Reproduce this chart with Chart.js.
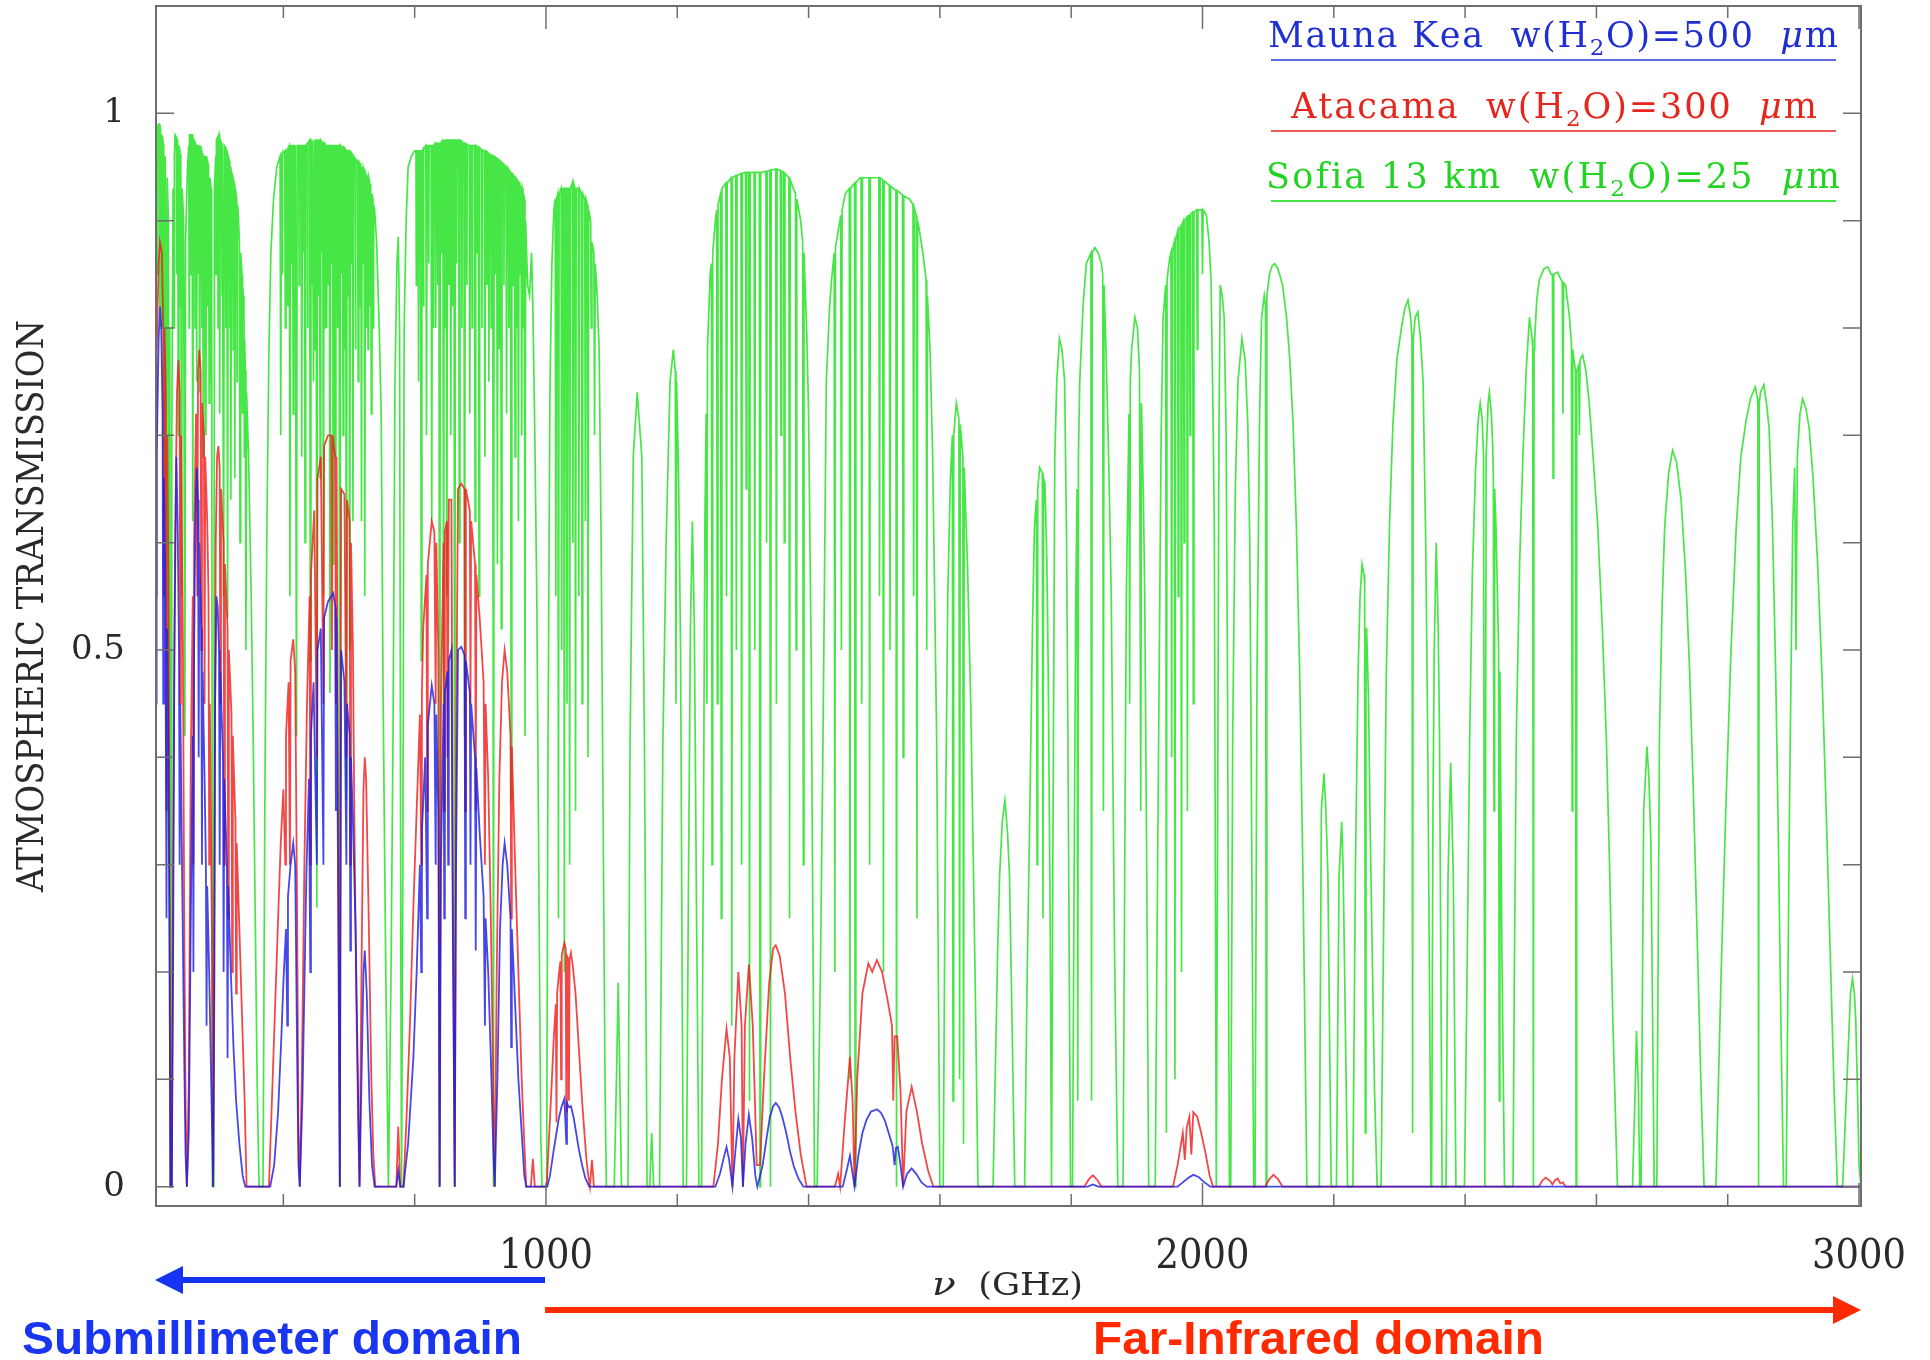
<!DOCTYPE html>
<html>
<head>
<meta charset="utf-8">
<title>Atmospheric transmission</title>
<script src="https://cdn.jsdelivr.net/npm/chart.js@4.4.0/dist/chart.umd.min.js"></script>
<style>
    html, body { margin: 0; padding: 0; background: #ffffff; }
    canvas { display: block; }
</style>
</head>
<body>
<canvas id="transChart" width="1930" height="1360"></canvas>
<script>
// Colores de las curvas
const siteColors = {
    maunaKea: 'rgba(25, 25, 225, 0.8)',
    atacama: 'rgba(240, 25, 25, 0.8)',
    sofia: 'rgba(0, 220, 0, 0.72)',
    frame: '#6e6e6e',
    text: '#2a2a2a'
};

// Ejes: marcas y etiquetas (GHz / transmision)
const xLabelTicks = [1000, 2000, 3000];
const xMinorTicks = [600, 800, 1200, 1400, 1600, 1800, 2200, 2400, 2600, 2800];
const yLabelTicks = [0, 0.5, 1];
const yMinorTicks = [0.1, 0.2, 0.3, 0.4, 0.6, 0.7, 0.8, 0.9];

// Leyenda
const seriesNames = ['Mauna Kea', 'Atacama', 'Sofia 13 km'];
const waterColumns = ['500', '300', '25'];

// Mauna Kea w(H2O)=500 um  -> [GHz, transmision]
const maunaKea = [
    [406, 0.45], [407, 0.68], [410, 0.79], [412, 0.82], [414, 0.8], [416, 0.72], [417, 0.45], [418, 0.66],
    [420, 0.58], [422, 0.25], [423, 0.52], [425, 0.4], [427, 0.15], [428, 0], [430, 0], [432, 0.2],
    [434, 0.5], [437, 0.68], [439, 0.62], [441, 0.5], [442, 0.3], [443, 0.45], [446, 0.28], [449, 0.12],
    [451, 0.03], [453, 0], [456, 0.05], [459, 0.25], [462, 0.42], [463, 0.2], [464, 0.5], [466, 0.62],
    [468, 0.67], [470, 0.64], [471, 0.4], [472, 0.6], [475, 0.52], [476, 0.3], [477, 0.48], [480, 0.38],
    [482, 0.3], [483, 0.15], [484, 0.28], [487, 0.2], [490, 0.1], [493, 0], [495, 0.2], [496, 0.45],
    [498, 0.55], [500, 0.54], [502, 0.5], [503, 0.3], [504, 0.48], [508, 0.4], [509, 0.2], [510, 0.38],
    [514, 0.3], [515, 0.12], [516, 0.28], [520, 0.2], [524, 0.13], [528, 0.08], [533, 0.04], [538, 0.01],
    [542, 0], [580, 0], [586, 0.02], [592, 0.07], [597, 0.14], [600, 0.19], [604, 0.24], [606, 0.15],
    [607, 0.27], [611, 0.3], [615, 0.32], [618, 0.3], [621, 0.12], [623, 0.02], [625, 0], [629, 0.08],
    [635, 0.29], [639, 0.38], [641, 0.2], [642, 0.42], [646, 0.47], [651, 0.3], [652, 0.5], [657, 0.52],
    [661, 0.3], [662, 0.53], [668, 0.545], [673, 0.55], [676, 0.553], [679, 0.54], [680, 0.35], [681, 0.53],
    [686, 0], [688, 0.5], [693, 0.47], [696, 0.3], [697, 0.45], [701, 0.42], [702, 0.22], [703, 0.4],
    [706, 0.34], [710, 0.24], [713, 0.12], [716, 0], [719, 0.1], [722, 0.2], [724, 0.22], [727, 0.18],
    [731, 0.08], [735, 0.02], [739, 0], [772, 0], [775, 0.015], [778, 0], [783, 0], [790, 0.04],
    [798, 0.12], [803, 0.2], [808, 0.3], [810, 0.2], [811, 0.33], [816, 0.4], [819, 0.25], [820, 0.43],
    [826, 0.467], [830, 0.45], [832, 0.3], [833, 0.44], [836, 0.35], [838, 0], [840, 0.3], [844, 0.45],
    [845, 0.25], [846, 0.46], [850, 0.48], [851, 0.3], [852, 0.49], [856, 0.5], [858, 0.25], [861, 0],
    [863, 0.3], [866, 0.5], [871, 0.503], [876, 0.495], [877, 0.25], [878, 0.49], [884, 0.46], [885, 0.3],
    [886, 0.45], [892, 0.4], [893, 0.22], [894, 0.39], [899, 0.33], [905, 0.27], [907, 0.15], [908, 0.25],
    [912, 0.2], [916, 0.12], [920, 0.03], [922, 0], [926, 0.1], [930, 0.24], [934, 0.3], [937, 0.32],
    [941, 0.3], [946, 0.25], [947, 0.13], [948, 0.24], [953, 0.17], [958, 0.1], [963, 0.05], [967, 0.01],
    [970, 0], [1002, 0], [1006, 0.01], [1012, 0.035], [1016, 0.05], [1020, 0.065], [1024, 0.075], [1028, 0.082],
    [1031, 0.04], [1032, 0.078], [1035, 0.074], [1038, 0.075], [1042, 0.065], [1046, 0.05], [1050, 0.035], [1055, 0.02],
    [1060, 0.008], [1066, 0], [1258, 0], [1265, 0.012], [1270, 0.025], [1275, 0.037], [1279, 0.025], [1284, 0],
    [1288, 0.03], [1293, 0.063], [1297, 0.045], [1300, 0], [1304, 0.04], [1309, 0.067], [1314, 0.045], [1319, 0.01],
    [1322, 0], [1330, 0.02], [1336, 0.045], [1341, 0.065], [1346, 0.075], [1350, 0.078], [1355, 0.074], [1360, 0.065],
    [1366, 0.05], [1372, 0.032], [1378, 0.018], [1385, 0.007], [1392, 0], [1452, 0], [1458, 0.015], [1463, 0.029],
    [1467, 0.012], [1470, 0], [1476, 0.03], [1482, 0.05], [1488, 0.062], [1495, 0.07], [1500, 0.071], [1504, 0.072],
    [1510, 0.069], [1516, 0.062], [1522, 0.05], [1528, 0.038], [1531, 0.02], [1533, 0.036], [1536, 0.037], [1540, 0.02],
    [1544, 0], [1550, 0.012], [1557, 0.017], [1564, 0.012], [1572, 0.004], [1580, 0], [1825, 0], [1833, 0.002],
    [1841, 0], [1962, 0], [1970, 0.004], [1978, 0.008], [1986, 0.011], [1994, 0.009], [2003, 0.004], [2012, 0],
    [3003, 0]
];

// Atacama w(H2O)=300 um
const atacama = [
    [406, 0.55], [407, 0.78], [410, 0.86], [412, 0.88], [415, 0.87], [417, 0.8], [418, 0.55], [419, 0.8],
    [421, 0.74], [422, 0.35], [423, 0.7], [425, 0.55], [427, 0.25], [428, 0], [430, 0], [432, 0.3],
    [435, 0.6], [438, 0.74], [440, 0.77], [442, 0.74], [443, 0.45], [444, 0.7], [447, 0.5], [449, 0.25],
    [451, 0.08], [453, 0], [456, 0.1], [459, 0.4], [462, 0.55], [463, 0.3], [464, 0.6], [467, 0.72],
    [469, 0.55], [470, 0.76], [472, 0.78], [474, 0.76], [475, 0.5], [476, 0.73], [479, 0.7], [480, 0.45],
    [481, 0.68], [484, 0.62], [486, 0.55], [487, 0.3], [488, 0.45], [491, 0.25], [493, 0], [495, 0.3],
    [497, 0.6], [499, 0.68], [501, 0.69], [503, 0.67], [504, 0.45], [505, 0.65], [509, 0.6], [510, 0.3],
    [511, 0.58], [515, 0.52], [516, 0.25], [517, 0.5], [521, 0.44], [522, 0.2], [523, 0.42], [527, 0.34],
    [528, 0.18], [529, 0.32], [533, 0.24], [537, 0.16], [541, 0.08], [544, 0], [578, 0], [582, 0.07],
    [587, 0.16], [592, 0.25], [596, 0.32], [600, 0.37], [603, 0.3], [604, 0.42], [608, 0.47], [610, 0.3],
    [611, 0.49], [615, 0.51], [618, 0.48], [621, 0.25], [623, 0.05], [625, 0], [628, 0.1], [632, 0.3],
    [636, 0.45], [640, 0.55], [641, 0.3], [642, 0.57], [647, 0.63], [651, 0.4], [652, 0.66], [657, 0.68],
    [661, 0.45], [662, 0.69], [668, 0.7], [673, 0.7], [674, 0.5], [675, 0.7], [679, 0.68], [680, 0.45],
    [681, 0.68], [686, 0], [688, 0.65], [693, 0.645], [696, 0.4], [697, 0.64], [701, 0.62], [702, 0.3],
    [703, 0.6], [706, 0.5], [708, 0.35], [711, 0.18], [714, 0.06], [716, 0], [719, 0.2], [722, 0.37],
    [724, 0.4], [726, 0.38], [730, 0.25], [734, 0.1], [737, 0.03], [740, 0], [772, 0], [775, 0.056],
    [778, 0], [783, 0], [788, 0.07], [793, 0.155], [798, 0.26], [803, 0.35], [808, 0.44], [810, 0.3],
    [811, 0.46], [813, 0.52], [818, 0.57], [819, 0.35], [820, 0.58], [826, 0.62], [830, 0.61], [832, 0.45],
    [833, 0.6], [836, 0.5], [838, 0], [840, 0.45], [844, 0.6], [845, 0.35], [846, 0.61], [849, 0.62],
    [850, 0.4], [852, 0.64], [856, 0.64], [858, 0.3], [861, 0], [863, 0.4], [866, 0.65], [871, 0.655],
    [876, 0.65], [877, 0.35], [878, 0.65], [884, 0.63], [885, 0.45], [886, 0.62], [892, 0.58], [893, 0.35],
    [894, 0.57], [899, 0.53], [905, 0.47], [907, 0.3], [908, 0.45], [912, 0.38], [916, 0.25], [920, 0.08],
    [922, 0], [925, 0.2], [929, 0.38], [933, 0.47], [937, 0.5], [941, 0.48], [946, 0.42], [947, 0.25],
    [948, 0.41], [953, 0.3], [958, 0.2], [963, 0.1], [967, 0.04], [970, 0], [977, 0], [980, 0.026],
    [983, 0], [1001, 0], [1005, 0.05], [1009, 0.1], [1012, 0.14], [1015, 0.17], [1016, 0.06], [1017, 0.18],
    [1020, 0.2], [1022, 0.21], [1023, 0.1], [1024, 0.215], [1026, 0.222], [1028, 0.227], [1030, 0.222], [1031, 0.07],
    [1032, 0.215], [1034, 0.212], [1035, 0.08], [1036, 0.212], [1038, 0.218], [1041, 0.205], [1045, 0.18], [1049, 0.14],
    [1052, 0.11], [1055, 0.08], [1058, 0.055], [1061, 0.03], [1064, 0.012], [1067, 0], [1070, 0.025], [1073, 0],
    [1255, 0], [1262, 0.04], [1268, 0.1], [1275, 0.147], [1280, 0.12], [1284, 0], [1287, 0.12], [1293, 0.2],
    [1298, 0.15], [1300, 0], [1303, 0.15], [1309, 0.207], [1315, 0.15], [1321, 0.02], [1326, 0.02], [1332, 0.1],
    [1340, 0.19], [1346, 0.222], [1350, 0.225], [1356, 0.215], [1364, 0.18], [1372, 0.12], [1380, 0.07], [1388, 0.03],
    [1397, 0], [1440, 0], [1445, 0.012], [1448, 0], [1455, 0.06], [1463, 0.121], [1467, 0.08], [1470, 0],
    [1474, 0.1], [1482, 0.18], [1491, 0.208], [1497, 0.2], [1504, 0.211], [1512, 0.2], [1520, 0.175], [1527, 0.15],
    [1529, 0.08], [1531, 0.14], [1535, 0.14], [1540, 0.09], [1544, 0], [1549, 0.07], [1557, 0.093], [1565, 0.07],
    [1573, 0.04], [1582, 0.015], [1590, 0], [1820, 0], [1827, 0.007], [1833, 0.0106], [1840, 0.006], [1846, 0],
    [1955, 0], [1962, 0.02], [1966, 0.035], [1970, 0.05], [1973, 0.025], [1976, 0.055], [1980, 0.065], [1983, 0.03],
    [1986, 0.0695], [1992, 0.065], [1998, 0.05], [2005, 0.03], [2011, 0.01], [2016, 0], [2095, 0], [2102, 0.007],
    [2108, 0.011], [2115, 0.007], [2122, 0], [2512, 0], [2518, 0.006], [2523, 0.0084], [2530, 0.005], [2533, 0.002],
    [2537, 0.006], [2541, 0.0075], [2545, 0.003], [2549, 0.004], [2553, 0], [3003, 0]
];

// Sofia 13 km w(H2O)=25 um
const sofia = [
    [406, 0.985], [407.5, 0.988], [408, 0.85], [408.5, 0.988], [410, 0.99], [411, 0.99], [411.5, 0.82], [412, 0.99],
    [413, 0.985], [414, 0.8], [415, 0.98], [416.5, 0.975], [417, 0.8], [417.5, 0.972], [418, 0.97], [419, 0.62],
    [420, 0.96], [422, 0.52], [423, 0.94], [425, 0.9], [426, 0.3], [427, 0.8], [428, 0], [429, 0],
    [430, 0.7], [432, 0.93], [433, 0.93], [433.5, 0.8], [434, 0.96], [435, 0.98], [437, 0.978], [437.5, 0.85],
    [438, 0.976], [439, 0.975], [440, 0.7], [441, 0.97], [442.5, 0.965], [443, 0.82], [443.5, 0.962], [444, 0.96],
    [445, 0.55], [446, 0.93], [448, 0.9], [450, 0.42], [451, 0.88], [454, 0.95], [456, 0.97], [456.5, 0.8],
    [457, 0.98], [459, 0.98], [459.5, 0.85], [460, 0.98], [461, 0.98], [462, 0.62], [463, 0.975], [465, 0.972],
    [465.5, 0.8], [466, 0.972], [467, 0.97], [468, 0.75], [469, 0.97], [470.5, 0.97], [471, 0.85], [471.5, 0.97],
    [472, 0.97], [473, 0.74], [474, 0.97], [475.5, 0.965], [476, 0.8], [476.5, 0.963], [477, 0.96], [478, 0.68],
    [479, 0.96], [481, 0.96], [482, 0.7], [483, 0.96], [484.5, 0.955], [485, 0.82], [485.5, 0.953], [486, 0.95],
    [487, 0.73], [488, 0.94], [489.5, 0.935], [490, 0.75], [490.5, 0.93], [491, 0.92], [492, 0], [494, 0],
    [495, 0.93], [497, 0.96], [497.5, 0.85], [498, 0.975], [500, 0.978], [500.5, 0.8], [501, 0.978], [502, 0.98],
    [503, 0.72], [504, 0.975], [506, 0.972], [506.5, 0.83], [507, 0.97], [508, 0.97], [509, 0.55], [510, 0.97],
    [512, 0.968], [512.5, 0.8], [513, 0.966], [514, 0.965], [515, 0.53], [516, 0.96], [518, 0.955], [518.5, 0.8],
    [519, 0.95], [520, 0.64], [521, 0.945], [523, 0.94], [523.5, 0.78], [524, 0.938], [525, 0.935], [526, 0.66],
    [527, 0.93], [529, 0.92], [529.5, 0.75], [530, 0.915], [531, 0.91], [533, 0.88], [534, 0.6], [535, 0.87],
    [537, 0.85], [537.5, 0.72], [538, 0.84], [539, 0.83], [540, 0.81], [540.5, 0.68], [541, 0.79], [542, 0.76],
    [543, 0.5], [544, 0.74], [547, 0.68], [551, 0.55], [554, 0.42], [557, 0.26], [560, 0.1], [563, 0],
    [569, 0], [572, 0.38], [575, 0.62], [578, 0.78], [581, 0.87], [585, 0.92], [590, 0.95], [595, 0.96],
    [596, 0.7], [597, 0.96], [598, 0.962], [598.5, 0.85], [599, 0.962], [602, 0.965], [603, 0.8], [604, 0.965],
    [606, 0.966], [606.5, 0.82], [607, 0.967], [609, 0.97], [610, 0.55], [611, 0.97], [612, 0.97], [612.5, 0.86],
    [613, 0.97], [614, 0.97], [615, 0.72], [616, 0.97], [617, 0.97], [617.5, 0.8], [618, 0.97], [619, 0.97],
    [620, 0.42], [621, 0.97], [623.5, 0.97], [624, 0.84], [624.5, 0.97], [627, 0.97], [628, 0.68], [629, 0.97],
    [630, 0.97], [630.5, 0.87], [631, 0.97], [632, 0.97], [633, 0.6], [634, 0.97], [636.5, 0.972], [637, 0.8],
    [637.5, 0.972], [640, 0.975], [641, 0.49], [642, 0.975], [643, 0.975], [643.5, 0.84], [644, 0.975], [645, 0.975],
    [646, 0.75], [647, 0.975], [648, 0.975], [648.5, 0.78], [649, 0.975], [650, 0.975], [651, 0.26], [652, 0.975],
    [653, 0.975], [653.5, 0.83], [654, 0.975], [655, 0.975], [656, 0.66], [657, 0.975], [658, 0.974], [658.5, 0.87],
    [659, 0.973], [660, 0.972], [661, 0.55], [662, 0.972], [663, 0.971], [663.5, 0.8], [664, 0.971], [665, 0.97],
    [666, 0.8], [667, 0.97], [668, 0.97], [668.5, 0.84], [669, 0.97], [670, 0.97], [671, 0.46], [672, 0.97],
    [673, 0.97], [673.5, 0.86], [674, 0.97], [675, 0.97], [676, 0.58], [677, 0.97], [678, 0.97], [679, 0.68],
    [680, 0.97], [682, 0.97], [682.5, 0.8], [683, 0.97], [685, 0.97], [686, 0], [687, 0.97], [688, 0.969],
    [688.5, 0.85], [689, 0.969], [690, 0.968], [691, 0.7], [692, 0.968], [693, 0.967], [693.5, 0.78], [694, 0.967],
    [695, 0.966], [696, 0.36], [697, 0.966], [698, 0.966], [698.5, 0.83], [699, 0.965], [700, 0.965], [701, 0.5],
    [702, 0.964], [703, 0.963], [703.5, 0.86], [704, 0.963], [705, 0.962], [706, 0.62], [707, 0.96], [709.5, 0.958],
    [710, 0.78], [710.5, 0.957], [713, 0.955], [714, 0.75], [715, 0.955], [716, 0.954], [716.5, 0.82], [717, 0.953],
    [718, 0.952], [719, 0.62], [720, 0.95], [721, 0.95], [721.5, 0.86], [722, 0.948], [723, 0.945], [724, 0.55],
    [725, 0.945], [726, 0.943], [726.5, 0.8], [727, 0.942], [728, 0.94], [729, 0.78], [730, 0.94], [731, 0.937],
    [731.5, 0.82], [732, 0.934], [733, 0.93], [734, 0.72], [735, 0.925], [736.5, 0.92], [737, 0.8], [737.5, 0.915],
    [739, 0.91], [742, 0.88], [746, 0.8], [749, 0.72], [752, 0.45], [756, 0.2], [760, 0], [764, 0.2],
    [767, 0.42], [770, 0.75], [773, 0.86], [775, 0.885], [777, 0.8], [779, 0.2], [780, 0], [782, 0.3],
    [784, 0.8], [787, 0.9], [790, 0.95], [795, 0.96], [800, 0.965], [802, 0.965], [802.5, 0.84], [803, 0.965],
    [805, 0.965], [806, 0.75], [807, 0.965], [809, 0.965], [810, 0.49], [811, 0.965], [813, 0.967], [813.5, 0.82],
    [814, 0.967], [817, 0.97], [818, 0.7], [819, 0.97], [821, 0.97], [821.5, 0.86], [822, 0.97], [825, 0.97],
    [826, 0.62], [827, 0.97], [828, 0.97], [828.5, 0.8], [829, 0.97], [831, 0.972], [832, 0.8], [833, 0.972],
    [834.5, 0.972], [835, 0.84], [835.5, 0.972], [837, 0.972], [838, 0], [839, 0.972], [840, 0.973], [840.5, 0.87],
    [841, 0.974], [843, 0.975], [844, 0.45], [845, 0.975], [846, 0.975], [846.5, 0.8], [847, 0.975], [848, 0.975],
    [849, 0.55], [850, 0.975], [851.5, 0.975], [852, 0.84], [852.5, 0.975], [854, 0.975], [855, 0.7], [856, 0.975],
    [857, 0.975], [857.5, 0.82], [858, 0.975], [860, 0.975], [861, 0], [862, 0.975], [863.5, 0.975], [864, 0.86],
    [864.5, 0.975], [867, 0.975], [868, 0.6], [869, 0.975], [871.5, 0.974], [872, 0.8], [872.5, 0.973], [875, 0.972],
    [876, 0.42], [877, 0.972], [879, 0.971], [879.5, 0.84], [880, 0.971], [883, 0.97], [884, 0.72], [885, 0.97],
    [887, 0.97], [887.5, 0.8], [888, 0.97], [891, 0.97], [892, 0.62], [893, 0.97], [894.5, 0.969], [895, 0.87],
    [895.5, 0.969], [897, 0.968], [898, 0.55], [899, 0.968], [902, 0.966], [902.5, 0.8], [903, 0.966], [906, 0.965],
    [907, 0.68], [908, 0.965], [909.5, 0.964], [910, 0.84], [910.5, 0.964], [912, 0.963], [913, 0.75], [914, 0.962],
    [916, 0.961], [916.5, 0.8], [917, 0.961], [919, 0.96], [920, 0], [921, 0.96], [922.5, 0.959], [923, 0.85],
    [923.5, 0.959], [925, 0.958], [926, 0.58], [927, 0.957], [928.5, 0.956], [929, 0.78], [929.5, 0.956], [931, 0.955],
    [932, 0.52], [933, 0.954], [935.5, 0.952], [936, 0.84], [936.5, 0.952], [939, 0.95], [940, 0.72], [941, 0.95],
    [943, 0.948], [943.5, 0.8], [944, 0.947], [946, 0.945], [947, 0.36], [948, 0.944], [949.5, 0.943], [950, 0.84],
    [950.5, 0.942], [952, 0.94], [953, 0.68], [954, 0.94], [955, 0.939], [955.5, 0.8], [956, 0.938], [957, 0.937],
    [958, 0.62], [959, 0.935], [960, 0.934], [960.5, 0.85], [961, 0.932], [962, 0.93], [963, 0.7], [964, 0.93],
    [965, 0.927], [965.5, 0.8], [966, 0.925], [967, 0.92], [968, 0.42], [969, 0.9], [972, 0.84], [975, 0.83],
    [978, 0.87], [980, 0.82], [983, 0.7], [986, 0.55], [989, 0.3], [992, 0.05], [994, 0], [1001, 0],
    [1003, 0.4], [1006, 0.74], [1009, 0.86], [1012, 0.91], [1014, 0.92], [1015, 0.55], [1016, 0.92], [1018, 0.925],
    [1019, 0.25], [1020, 0.925], [1023, 0.93], [1024, 0.5], [1025, 0.93], [1027, 0.93], [1028, 0.2], [1029, 0.93],
    [1031, 0.93], [1032, 0.45], [1033, 0.93], [1035, 0.93], [1036, 0.3], [1037, 0.93], [1040, 0.935], [1041, 0.6],
    [1042, 0.935], [1044, 0.93], [1045, 0.35], [1046, 0.93], [1049, 0.93], [1050, 0.55], [1051, 0.93], [1054, 0.925],
    [1055, 0.45], [1056, 0.925], [1059, 0.92], [1060, 0.62], [1061, 0.92], [1063, 0.915], [1064, 0.4], [1065, 0.91],
    [1068, 0.9], [1069, 0.8], [1070, 0.88], [1073, 0.87], [1074, 0.7], [1075, 0.86], [1078, 0.83], [1081, 0.78],
    [1084, 0.6], [1087, 0.35], [1090, 0.09], [1092, 0], [1104, 0], [1108, 0.12], [1110, 0.19], [1112, 0.12],
    [1115, 0], [1125, 0], [1128, 0.41], [1133, 0.68], [1139, 0.74], [1146, 0.68], [1150, 0.41], [1154, 0],
    [1158, 0], [1161, 0.05], [1164, 0], [1173, 0], [1178, 0.41], [1183, 0.6], [1189, 0.75], [1194, 0.78],
    [1197, 0.76], [1198, 0.45], [1199, 0.75], [1202, 0.66], [1205, 0.5], [1209, 0], [1214, 0], [1217, 0.28],
    [1220, 0.52], [1223, 0.62], [1226, 0.52], [1229, 0.28], [1233, 0], [1237, 0], [1240, 0.35], [1242, 0.615],
    [1244, 0.72], [1245, 0.45], [1246, 0.78], [1250, 0.85], [1252, 0.86], [1253, 0.3], [1254, 0.87], [1258, 0.9],
    [1260, 0.91], [1261, 0.45], [1262, 0.915], [1266, 0.925], [1267, 0.25], [1268, 0.93], [1274, 0.935], [1275, 0.55],
    [1276, 0.935], [1282, 0.94], [1283, 0.15], [1284, 0.94], [1289, 0.942], [1290, 0.5], [1291, 0.942], [1297, 0.944],
    [1298, 0.3], [1299, 0.944], [1304, 0.945], [1305, 0.65], [1306, 0.945], [1309, 0.945], [1310, 0.08], [1311, 0.945],
    [1317, 0.945], [1318, 0.5], [1319, 0.945], [1325, 0.945], [1326, 0], [1327, 0.945], [1335, 0.946], [1336, 0.6],
    [1337, 0.946], [1341, 0.947], [1342, 0], [1343, 0.947], [1350, 0.948], [1351, 0.45], [1352, 0.948], [1357, 0.947],
    [1358, 0.7], [1359, 0.946], [1362, 0.945], [1363, 0.6], [1364, 0.944], [1370, 0.94], [1371, 0.25], [1372, 0.938],
    [1380, 0.925], [1381, 0.5], [1382, 0.92], [1388, 0.9], [1391, 0.88], [1392, 0.3], [1393, 0.87], [1397, 0.8],
    [1400, 0.72], [1404, 0.49], [1409, 0], [1413, 0], [1418, 0.2], [1422, 0.42], [1427, 0.75], [1432, 0.82],
    [1435, 0.845], [1439, 0.87], [1440, 0.2], [1441, 0.875], [1445, 0.89], [1449, 0.905], [1450, 0.5], [1451, 0.91],
    [1456, 0.925], [1462, 0.93], [1463, 0.1], [1464, 0.93], [1470, 0.935], [1471, 0], [1472, 0.935], [1478, 0.94],
    [1480, 0.94], [1481, 0.45], [1482, 0.94], [1492, 0.94], [1493, 0.3], [1494, 0.94], [1503, 0.94], [1507, 0.94],
    [1508, 0.55], [1509, 0.94], [1513, 0.938], [1514, 0.2], [1515, 0.937], [1523, 0.933], [1524, 0.5], [1525, 0.932],
    [1529, 0.93], [1533, 0.928], [1534, 0], [1535, 0.928], [1543, 0.924], [1544, 0.4], [1545, 0.923], [1554, 0.92],
    [1559, 0.915], [1560, 0.55], [1561, 0.912], [1564, 0.905], [1565, 0.25], [1566, 0.9], [1569, 0.89], [1574, 0.87],
    [1579, 0.845], [1580, 0.5], [1581, 0.83], [1585, 0.78], [1589, 0.68], [1592, 0.55], [1595, 0.42], [1600, 0],
    [1605, 0], [1608, 0.3], [1612, 0.55], [1616, 0.66], [1619, 0.7], [1620, 0.08], [1621, 0.7], [1625, 0.73],
    [1629, 0.715], [1630, 0.1], [1631, 0.71], [1635, 0.68], [1636, 0.04], [1637, 0.67], [1642, 0.58], [1647, 0.45],
    [1651, 0.3], [1654, 0.18], [1658, 0], [1681, 0], [1688, 0.22], [1691, 0.29], [1695, 0.34], [1699, 0.36],
    [1703, 0.33], [1706, 0.29], [1710, 0.15], [1714, 0], [1729, 0], [1733, 0.2], [1737, 0.35], [1741, 0.52],
    [1744, 0.615], [1747, 0.64], [1748, 0.3], [1749, 0.65], [1752, 0.67], [1756, 0.665], [1757, 0.25], [1758, 0.66],
    [1760, 0.655], [1763, 0.58], [1765, 0.48], [1768, 0.25], [1770, 0], [1772, 0.3], [1775, 0.68], [1778, 0.75],
    [1782, 0.79], [1786, 0.78], [1790, 0.75], [1793, 0.6], [1795, 0.42], [1799, 0], [1802, 0], [1805, 0.35],
    [1807, 0.55], [1809, 0.65], [1810, 0.08], [1811, 0.68], [1813, 0.75], [1818, 0.82], [1823, 0.86], [1830, 0.87],
    [1831, 0.08], [1832, 0.87], [1836, 0.875], [1841, 0.87], [1846, 0.86], [1848, 0.85], [1849, 0.35], [1850, 0.84],
    [1853, 0.78], [1857, 0.68], [1861, 0.55], [1866, 0.22], [1871, 0], [1879, 0], [1882, 0.35], [1884, 0.55],
    [1888, 0.72], [1889, 0.45], [1890, 0.75], [1892, 0.78], [1897, 0.81], [1901, 0.8], [1904, 0.76], [1906, 0.35],
    [1907, 0.73], [1910, 0.64], [1912, 0.55], [1915, 0.3], [1918, 0], [1928, 0], [1931, 0.25], [1934, 0.48],
    [1937, 0.7], [1940, 0.81], [1944, 0.84], [1945, 0.05], [1946, 0.845], [1950, 0.865], [1952, 0.87], [1953, 0.4],
    [1954, 0.872], [1957, 0.88], [1958, 0.1], [1959, 0.882], [1962, 0.89], [1963, 0.55], [1964, 0.892], [1967, 0.895],
    [1968, 0.2], [1969, 0.897], [1971, 0.9], [1972, 0.6], [1973, 0.9], [1976, 0.903], [1977, 0.35], [1978, 0.904],
    [1980, 0.905], [1981, 0.7], [1982, 0.906], [1985, 0.908], [1986, 0.45], [1987, 0.908], [1991, 0.91], [1992, 0.78],
    [1993, 0.91], [1999, 0.91], [2000, 0.85], [2001, 0.91], [2006, 0.905], [2010, 0.88], [2013, 0.845], [2016, 0.72],
    [2018, 0.615], [2021, 0], [2023, 0.33], [2025, 0.7], [2027, 0.84], [2030, 0.83], [2033, 0.81], [2036, 0.7],
    [2038, 0.48], [2041, 0], [2043, 0], [2046, 0.42], [2050, 0.65], [2054, 0.75], [2060, 0.79], [2065, 0.77],
    [2069, 0.71], [2072, 0.6], [2074, 0.42], [2078, 0], [2080, 0], [2083, 0.48], [2087, 0.72], [2090, 0.81],
    [2094, 0.83], [2096, 0.82], [2097, 0], [2098, 0.83], [2102, 0.85], [2106, 0.858], [2110, 0.86], [2115, 0.855],
    [2122, 0.84], [2128, 0.81], [2133, 0.77], [2138, 0.71], [2143, 0.615], [2148, 0.48], [2153, 0.29], [2159, 0],
    [2178, 0], [2181, 0.35], [2185, 0.385], [2188, 0.35], [2191, 0.29], [2196, 0], [2204, 0], [2208, 0.29],
    [2212, 0.34], [2214, 0.3], [2216, 0.22], [2221, 0], [2229, 0], [2233, 0.3], [2237, 0.48], [2240, 0.55],
    [2243, 0.58], [2246, 0.57], [2247, 0.56], [2248, 0.05], [2249, 0.52], [2250, 0.52], [2253, 0.45], [2255, 0.35],
    [2259, 0.2], [2262, 0.09], [2266, 0], [2272, 0], [2276, 0.25], [2280, 0.48], [2285, 0.62], [2290, 0.71],
    [2296, 0.77], [2303, 0.8], [2308, 0.818], [2313, 0.826], [2317, 0.81], [2319, 0.79], [2320, 0.05], [2321, 0.79],
    [2324, 0.81], [2328, 0.815], [2332, 0.79], [2336, 0.75], [2340, 0.6], [2343, 0.42], [2348, 0], [2349, 0],
    [2351, 0.35], [2353, 0.5], [2356, 0.6], [2359, 0.52], [2361, 0.42], [2365, 0], [2371, 0], [2374, 0.29],
    [2378, 0.395], [2382, 0.29], [2386, 0], [2399, 0], [2403, 0.2], [2407, 0.42], [2411, 0.57], [2416, 0.67],
    [2420, 0.715], [2423, 0.73], [2426, 0.715], [2428, 0.68], [2430, 0], [2432, 0.68], [2435, 0.73], [2437, 0.74],
    [2440, 0.72], [2442, 0.69], [2443, 0.66], [2444, 0.35], [2445, 0.65], [2447, 0.615], [2450, 0.53], [2451, 0.5],
    [2452, 0.08], [2453, 0.48], [2456, 0.22], [2460, 0], [2473, 0], [2475, 0.2], [2478, 0.42], [2483, 0.58],
    [2488, 0.68], [2493, 0.76], [2498, 0.81], [2502, 0.79], [2503, 0.78], [2504, 0], [2505, 0.78], [2506, 0.79],
    [2509, 0.825], [2513, 0.845], [2520, 0.855], [2526, 0.857], [2531, 0.85], [2533, 0.85], [2534, 0.66], [2535, 0.85],
    [2541, 0.852], [2546, 0.845], [2548, 0.843], [2549, 0.72], [2550, 0.842], [2553, 0.84], [2559, 0.81], [2562, 0.785],
    [2563, 0.35], [2564, 0.78], [2567, 0.765], [2568, 0.76], [2569, 0], [2570, 0.76], [2573, 0.765], [2574, 0.7],
    [2575, 0.77], [2579, 0.775], [2584, 0.76], [2589, 0.73], [2595, 0.68], [2602, 0.615], [2609, 0.52], [2615, 0.42],
    [2620, 0.3], [2625, 0.155], [2632, 0], [2655, 0], [2659, 0.09], [2661, 0.145], [2664, 0.09], [2666, 0],
    [2668, 0], [2672, 0.35], [2677, 0.41], [2680, 0.38], [2683, 0.32], [2688, 0], [2692, 0], [2696, 0.42],
    [2700, 0.54], [2704, 0.615], [2710, 0.665], [2716, 0.686], [2722, 0.675], [2729, 0.64], [2736, 0.57], [2742, 0.48],
    [2748, 0.36], [2754, 0.22], [2759, 0.1], [2764, 0], [2782, 0], [2790, 0.2], [2797, 0.35], [2805, 0.5],
    [2813, 0.615], [2820, 0.68], [2828, 0.714], [2835, 0.735], [2842, 0.745], [2845, 0.735], [2846, 0.73], [2847, 0],
    [2848, 0.73], [2850, 0.74], [2855, 0.747], [2859, 0.73], [2863, 0.707], [2868, 0.62], [2873, 0.48], [2877, 0.33],
    [2881, 0.155], [2885, 0], [2889, 0], [2894, 0.35], [2899, 0.615], [2902, 0.67], [2904, 0.5], [2906, 0.68],
    [2910, 0.72], [2914, 0.734], [2919, 0.725], [2924, 0.707], [2930, 0.66], [2937, 0.58], [2944, 0.47], [2950, 0.35],
    [2956, 0.22], [2962, 0.09], [2967, 0], [2975, 0], [2979, 0.06], [2983, 0.12], [2987, 0.18], [2990, 0.194],
    [2993, 0.18], [2995, 0.155], [2998, 0.08], [3000, 0.02], [3003, 0]
];

const serifFont = "'DejaVu Serif', 'Liberation Serif', serif";
const condensedSerif = "'DejaVu Serif Condensed', 'DejaVu Serif', serif";

// Texto estirado/comprimido al ancho indicado
function fitText(ctx, text, font, left, baseline, width) {
    ctx.font = font;
    const natural = ctx.measureText(text).width;
    ctx.save();
    ctx.translate(left, baseline);
    ctx.scale(width / natural, 1);
    ctx.textAlign = 'left';
    ctx.textBaseline = 'alphabetic';
    ctx.fillText(text, 0, 0);
    ctx.restore();
}

// Texto con espaciado entre letras para llenar [left, right]
function spacedRuns(ctx, runs, left, right, baseline) {
    let natural = 0;
    let count = 0;
    runs.forEach(r => {
        ctx.font = r.font;
        for (const ch of r.t) { natural += ctx.measureText(ch).width; count++; }
    });
    const extra = (right - left - natural) / (count - 1);
    let x = left;
    ctx.textAlign = 'left';
    ctx.textBaseline = 'alphabetic';
    runs.forEach(r => {
        ctx.font = r.font;
        for (const ch of r.t) {
            ctx.fillText(ch, x, baseline + (r.dy || 0));
            x += ctx.measureText(ch).width + extra;
        }
    });
}

// Marco con marcas hacia dentro
const frameTicks = {
    id: 'frameTicks',
    afterDatasetsDraw(chart) {
        const { ctx, chartArea: a, scales: { x, y } } = chart;
        ctx.save();
        ctx.strokeStyle = siteColors.frame;
        ctx.lineWidth = 1.5;
        ctx.beginPath();
        xMinorTicks.forEach(v => {
            const px = x.getPixelForValue(v);
            ctx.moveTo(px, a.bottom); ctx.lineTo(px, a.bottom - 12);
            ctx.moveTo(px, a.top); ctx.lineTo(px, a.top + 12);
        });
        xLabelTicks.forEach(v => {
            const px = x.getPixelForValue(v);
            ctx.moveTo(px, a.bottom); ctx.lineTo(px, a.bottom - 23);
            ctx.moveTo(px, a.top); ctx.lineTo(px, a.top + 23);
        });
        yMinorTicks.concat(yLabelTicks).forEach(v => {
            const py = y.getPixelForValue(v);
            ctx.moveTo(a.left, py); ctx.lineTo(a.left + 18, py);
            ctx.moveTo(a.right, py); ctx.lineTo(a.right - 18, py);
        });
        ctx.stroke();
        ctx.lineWidth = 2;
        ctx.strokeRect(a.left, a.top, a.right - a.left, a.bottom - a.top);
        ctx.restore();
    }
};

// Leyenda, titulos de ejes y flechas de dominio
const annotations = {
    id: 'annotations',
    afterDraw(chart) {
        const ctx = chart.ctx;
        ctx.save();

        const legendRows = [
            { color: '#1f2fd0', line: '#5b68e2', left: 1268, right: 1838, base: 47, under: 60 },
            { color: '#e5261c', line: '#ef5a55', left: 1291, right: 1817, base: 118, under: 131 },
            { color: '#22d422', line: '#4ae24a', left: 1266, right: 1840, base: 188, under: 201 }
        ];
        legendRows.forEach((row, i) => {
            ctx.fillStyle = row.color;
            spacedRuns(ctx, [
                { t: seriesNames[i] + '  w(H', font: '35px ' + serifFont },
                { t: '2', font: '23px ' + serifFont, dy: 8 },
                { t: 'O)=' + waterColumns[i] + '  ', font: '35px ' + serifFont },
                { t: '\u03bc', font: 'italic 35px ' + serifFont },
                { t: 'm', font: '35px ' + serifFont }
            ], row.left, row.right, row.base);
            ctx.strokeStyle = row.line;
            ctx.lineWidth = 2;
            ctx.beginPath();
            ctx.moveTo(1271, row.under);
            ctx.lineTo(1836, row.under);
            ctx.stroke();
        });

        // titulo eje y
        ctx.fillStyle = siteColors.text;
        ctx.save();
        ctx.translate(43, 892);
        ctx.rotate(-Math.PI / 2);
        fitText(ctx, 'ATMOSPHERIC TRANSMISSION', '38px ' + condensedSerif, 0, 0, 572);
        ctx.restore();

        // titulo eje x
        ctx.font = 'italic 32px ' + serifFont;
        const nuW = ctx.measureText('\u03bd').width;
        ctx.font = '32px ' + condensedSerif;
        const restW = ctx.measureText('  (GHz)').width;
        const sx = 151 / (nuW + restW);
        ctx.save();
        ctx.translate(932, 1295);
        ctx.scale(sx, 1);
        ctx.textBaseline = 'alphabetic';
        ctx.font = 'italic 32px ' + serifFont;
        ctx.fillText('\u03bd', 0, 0);
        ctx.font = '32px ' + condensedSerif;
        ctx.fillText('  (GHz)', nuW, 0);
        ctx.restore();

        // flecha submilimetrica (hacia la izquierda)
        ctx.fillStyle = '#1434f2';
        ctx.fillRect(178, 1277, 545 - 178, 6);
        ctx.beginPath();
        ctx.moveTo(155, 1280); ctx.lineTo(183, 1266); ctx.lineTo(183, 1294);
        ctx.closePath(); ctx.fill();

        // flecha infrarrojo lejano (hacia la derecha)
        ctx.fillStyle = '#ff2a00';
        ctx.fillRect(545, 1307, 1836 - 545, 6);
        ctx.beginPath();
        ctx.moveTo(1861, 1310); ctx.lineTo(1833, 1296); ctx.lineTo(1833, 1324);
        ctx.closePath(); ctx.fill();

        const boldSans = "bold 46px 'Liberation Sans', Arial, sans-serif";
        ctx.fillStyle = '#1a35f0';
        fitText(ctx, 'Submillimeter domain', boldSans, 22, 1354, 500);
        ctx.fillStyle = '#ff2a00';
        fitText(ctx, 'Far-Infrared domain', boldSans, 1093, 1354, 451);

        ctx.restore();
    }
};

const ctx = document.getElementById('transChart').getContext('2d');
const transChart = new Chart(ctx, {
    type: 'scatter',
    data: {
        datasets: [{
            label: 'Mauna Kea w(H2O)=500 \u03bcm',
            data: maunaKea,
            borderColor: siteColors.maunaKea,
            borderWidth: 1.8,
            showLine: true,
            pointRadius: 0,
            tension: 0
        }, {
            label: 'Atacama w(H2O)=300 \u03bcm',
            data: atacama,
            borderColor: siteColors.atacama,
            borderWidth: 1.8,
            showLine: true,
            pointRadius: 0,
            tension: 0
        }, {
            label: 'Sofia 13 km w(H2O)=25 \u03bcm',
            data: sofia,
            borderColor: siteColors.sofia,
            borderWidth: 1.7,
            showLine: true,
            pointRadius: 0,
            tension: 0
        }]
    },
    options: {
        responsive: false,
        animation: false,
        devicePixelRatio: 1,
        layout: { padding: { left: 0, right: 69, top: 6, bottom: 0 } },
        plugins: {
            legend: { display: false },
            tooltip: { enabled: false }
        },
        scales: {
            x: {
                type: 'linear',
                min: 406,
                max: 3003,
                grid: { display: false },
                border: { display: false },
                afterBuildTicks: s => { s.ticks = xLabelTicks.map(v => ({ value: v })); },
                afterFit: s => {
                    s.height = 154;
                    s.paddingLeft = 0;
                    s.paddingRight = 0;
                },
                ticks: {
                    autoSkip: false,
                    maxRotation: 0,
                    padding: 19,
                    color: siteColors.text,
                    font: { family: condensedSerif, size: 41 },
                    callback: v => String(v)
                }
            },
            y: {
                min: -0.018,
                max: 1.1,
                grid: { display: false },
                border: { display: false },
                afterBuildTicks: s => { s.ticks = yLabelTicks.map(v => ({ value: v })); },
                afterFit: s => {
                    s.width = 156;
                    s.paddingTop = 0;
                    s.paddingBottom = 0;
                },
                ticks: {
                    padding: 23,
                    color: siteColors.text,
                    font: { family: serifFont, size: 34 },
                    callback: v => String(v)
                }
            }
        }
    },
    plugins: [frameTicks, annotations]
});
</script>
</body>
</html>
